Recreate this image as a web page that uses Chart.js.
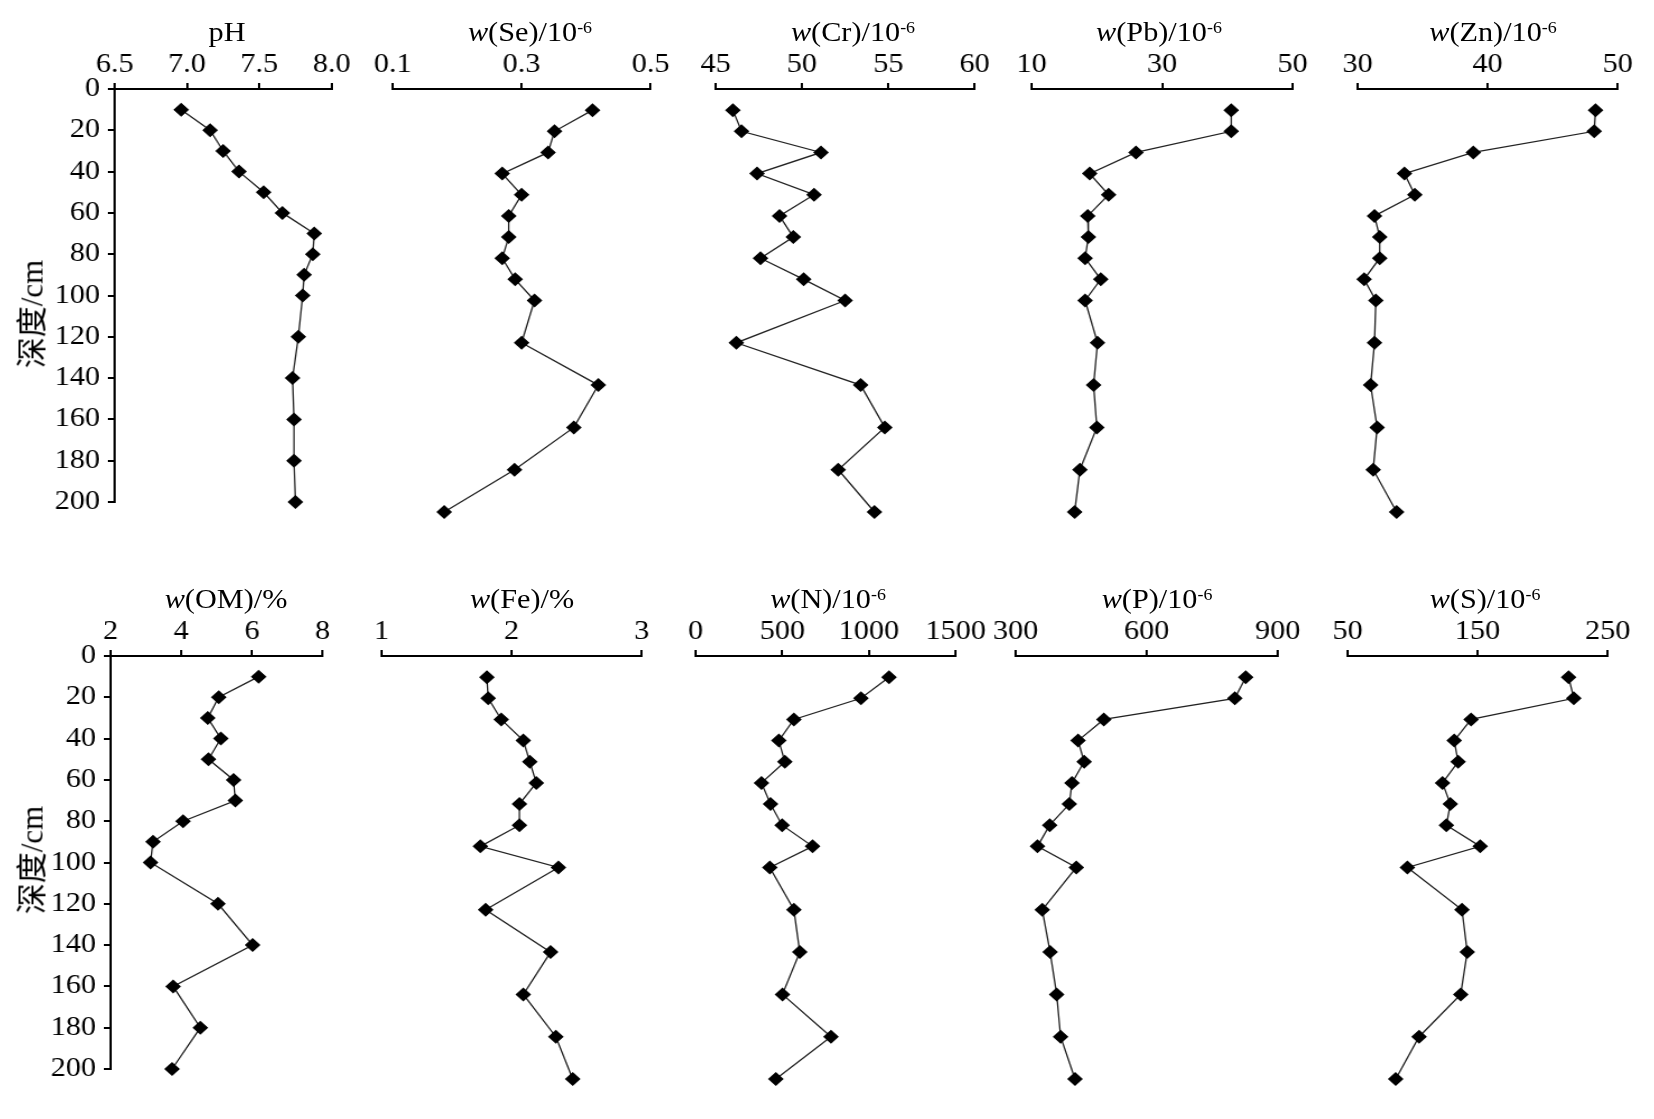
<!DOCTYPE html>
<html>
<head>
<meta charset="utf-8">
<script src="https://cdn.jsdelivr.net/npm/chart.js@4.4.1/dist/chart.umd.min.js"></script>
<style>
  body{margin:0;background:#fff;width:1654px;height:1119px;overflow:hidden;position:relative;
       font-family:"Liberation Serif","Times New Roman",serif;color:#000;}
  canvas{position:absolute;transform-origin:0 0;}
  .ttl{position:absolute;font-size:27px;line-height:27px;white-space:nowrap;
       transform:translateX(-50%) scaleX(1.12);transform-origin:center;}
  .ttl sup{font-size:16px;line-height:0;vertical-align:8px;}
  .ylab{position:absolute;font-size:31px;line-height:31px;white-space:nowrap;
        font-family:"Liberation Serif","Noto Sans CJK SC",serif;
        transform:translate(-50%,-50%) rotate(-90deg);}
</style>
</head>
<body>
<script>
// depth profiles, one value per sampling depth (cm)
const depth = [10,20,30,40,50,60,70,80,90,100,120,140,160,180,200];
const depthTicks = [0,20,40,60,80,100,120,140,160,180,200];

const pH = [6.96,7.16,7.25,7.36,7.53,7.66,7.88,7.87,7.81,7.80,7.77,7.73,7.74,7.74,7.75];
const pHTicks = [6.5,7.0,7.5,8.0];
const Se = [0.410,0.351,0.341,0.270,0.300,0.280,0.280,0.270,0.290,0.320,0.300,0.419,0.381,0.289,0.180];
const SeTicks = [0.1,0.3,0.5];
const Cr = [46.0,46.5,51.1,47.4,50.7,48.7,49.5,47.6,50.1,52.5,46.2,53.4,54.8,52.1,54.2];
const CrTicks = [45,50,55,60];
const Pb = [40.6,40.6,26.0,18.9,21.8,18.6,18.7,18.2,20.6,18.2,20.1,19.5,20.0,17.4,16.6];
const PbTicks = [10,30,50];
const Zn = [48.3,48.2,38.9,33.6,34.4,31.3,31.7,31.7,30.5,31.4,31.3,31.0,31.5,31.2,33.0];
const ZnTicks = [30,40,50];

const OM = [6.19,5.06,4.75,5.12,4.77,5.48,5.53,4.05,3.20,3.13,5.04,6.02,3.77,4.54,3.74];
const OMTicks = [2,4,6,8];
const Fe = [1.81,1.82,1.92,2.09,2.14,2.19,2.06,2.06,1.76,2.36,1.80,2.30,2.09,2.34,2.47];
const FeTicks = [1,2,3];
const N = [1116,954,567,480,515,380,432,499,675,428,567,601,501,781,463];
const NTicks = [0,500,1000,1500];
const P = [827,802,502,443,457,429,423,378,350,439,361,379,394,403,436];
const PTicks = [300,600,900];
const Sv = [220,224,145,132,135,123,129,126,152,96,138,142,137,105,87];
const STicks = [50,150,250];

// layout
const K = 1.12;              // the figure is a bit wider than tall fonts
const rowTop = [89, 656];    // y of the top axis line in each row
const titleTop = [19, 586];
const ylabY = [314, 860];
const AX_H = 56, YAX_W = 80, PAD_L = 30, PAD_B = 14, PAD_R = 34;
const FONT = '"Liberation Serif","Times New Roman",serif';

const panels = [
  {vals: pH, ticks: pHTicks, dec: 1, title: 'pH', L: 115, R: 332, row: 0, yAxis: true, tx: 227},
  {vals: Se, ticks: SeTicks, dec: 1, title: '<i>w</i>(Se)/10<sup>-6</sup>', L: 393, R: 651, row: 0, tx: 530},
  {vals: Cr, ticks: CrTicks, dec: 0, title: '<i>w</i>(Cr)/10<sup>-6</sup>', L: 716, R: 975, row: 0, tx: 853},
  {vals: Pb, ticks: PbTicks, dec: 0, title: '<i>w</i>(Pb)/10<sup>-6</sup>', L: 1032, R: 1293, row: 0, tx: 1159},
  {vals: Zn, ticks: ZnTicks, dec: 0, title: '<i>w</i>(Zn)/10<sup>-6</sup>', L: 1358, R: 1618, row: 0, tx: 1493},
  {vals: OM, ticks: OMTicks, dec: 0, title: '<i>w</i>(OM)/%', L: 111, R: 323, row: 1, yAxis: true, tx: 226},
  {vals: Fe, ticks: FeTicks, dec: 0, title: '<i>w</i>(Fe)/%', L: 382, R: 642, row: 1, tx: 522},
  {vals: N, ticks: NTicks, dec: 0, title: '<i>w</i>(N)/10<sup>-6</sup>', L: 696, R: 956, row: 1, tx: 828},
  {vals: P, ticks: PTicks, dec: 0, title: '<i>w</i>(P)/10<sup>-6</sup>', L: 1016, R: 1278, row: 1, tx: 1157},
  {vals: Sv, ticks: STicks, dec: 0, title: '<i>w</i>(S)/10<sup>-6</sup>', L: 1348, R: 1608, row: 1, tx: 1485}
];

Chart.defaults.font.family = FONT;
Chart.defaults.color = '#000';

function addDiv(cls, html, left, top){
  const d = document.createElement('div');
  d.className = cls; d.innerHTML = html;
  d.style.left = left + 'px'; d.style.top = top + 'px';
  document.body.appendChild(d);
}

panels.forEach(p => {
  const T = rowTop[p.row];
  const B = T + (p.yAxis ? 413 : 423);
  const padL = p.yAxis ? YAX_W : PAD_L;
  const plotW = (p.R - p.L) / K;
  const cw = Math.ceil(padL + plotW + PAD_R);
  const ch = AX_H + (B - T) + PAD_B;

  const cv = document.createElement('canvas');
  cv.width = cw; cv.height = ch;
  cv.style.width = cw + 'px'; cv.style.height = ch + 'px';
  cv.style.left = (p.L - padL * K) + 'px';
  cv.style.top = (T - AX_H) + 'px';
  cv.style.transform = 'scaleX(' + K + ')';
  document.body.appendChild(cv);

  const pts = depth.map((d, i) => ({x: p.vals[i], y: d}));

  new Chart(cv, {
    type: 'scatter',
    data: {
      datasets: [{
        data: pts,
        showLine: true,
        borderColor: '#222',
        borderWidth: 1.3,
        pointStyle: 'rectRot',
        pointRadius: 7,
        pointBackgroundColor: '#000',
        pointBorderColor: '#000',
        pointBorderWidth: 0,
        clip: false
      }]
    },
    options: {
      responsive: false,
      animation: false,
      events: [],
      layout: {padding: {left: p.yAxis ? 0 : PAD_L, right: cw - padL - plotW, top: 0, bottom: PAD_B}},
      plugins: {legend: {display: false}, tooltip: {enabled: false}},
      scales: {
        x: {
          type: 'linear', position: 'top',
          min: p.ticks[0], max: p.ticks[p.ticks.length - 1],
          afterBuildTicks: s => { s.ticks = p.ticks.map(v => ({value: v})); },
          afterFit: s => { s.height = AX_H; s.paddingLeft = 0; s.paddingRight = 0; },
          ticks: {font: {size: 27}, color: '#000', padding: 2, maxRotation: 0, autoSkip: false,
                  callback: v => Number(v).toFixed(p.dec)},
          grid: {drawOnChartArea: false, drawTicks: true, tickLength: 6, color: '#000', lineWidth: 2},
          border: {display: true, color: '#000', width: 2}
        },
        y: {
          type: 'linear', reverse: true, min: 0, max: 200,
          display: !!p.yAxis,
          afterBuildTicks: s => { s.ticks = depthTicks.map(v => ({value: v})); },
          afterFit: s => { if (p.yAxis) s.width = YAX_W; s.paddingTop = 0; s.paddingBottom = 0; },
          ticks: {font: {size: 27}, color: '#000', padding: 7, autoSkip: false},
          grid: {drawOnChartArea: false, drawTicks: true, tickLength: 6, color: '#000', lineWidth: 2},
          border: {display: true, color: '#000', width: 2}
        }
      }
    }
  });

  addDiv('ttl', p.title, p.tx, titleTop[p.row]);
  if (p.yAxis) addDiv('ylab', '深度/cm', 32, ylabY[p.row]);
});
</script>
</body>
</html>
